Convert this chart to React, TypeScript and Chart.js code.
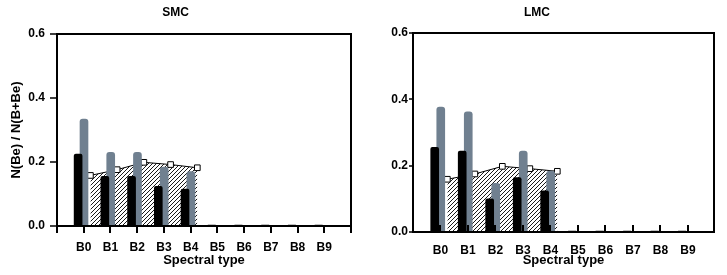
import React, { useEffect, useRef } from 'react';
import { Chart, registerables } from 'chart.js';

Chart.register(...registerables);
Chart.defaults.font.family = "'Liberation Sans', Arial, Helvetica, sans-serif";
Chart.defaults.color = '#000';

// ---- data ----
const spectralTypes = ['B0', 'B1', 'B2', 'B3', 'B4', 'B5', 'B6', 'B7', 'B8', 'B9'];
const yTickValues = [0, 0.2, 0.4, 0.6];

const smcBlack = [0.225, 0.155, 0.155, 0.124, 0.115, 0.003, 0.003, 0.003, 0.003, 0.003];
const smcGrey = [0.334, 0.23, 0.23, 0.184, 0.17, 0, 0, 0, 0, 0];
const smcMean = [0.158, 0.176, 0.199, 0.192, 0.182];

const lmcBlack = [0.255, 0.244, 0.1, 0.164, 0.124, 0.003, 0.003, 0.003, 0.003, 0.003];
const lmcGrey = [0.377, 0.362, 0.147, 0.244, 0.184, 0, 0, 0, 0, 0];
const lmcMean = [0.159, 0.175, 0.198, 0.191, 0.183];

// sub-positions inside one spectral-type slot
const BLACK_OFF = -0.21;
const GREY_OFF = 0.01;
const MEAN_OFF = 0.25;

function makeHatch(): CanvasPattern | string {
  const c = document.createElement('canvas');
  c.width = 4;
  c.height = 4;
  const g = c.getContext('2d');
  if (!g) return '#999';
  g.fillStyle = '#fff';
  g.fillRect(0, 0, 4, 4);
  g.strokeStyle = '#1a1a1a';
  g.lineWidth = 1;
  g.beginPath();
  g.moveTo(0, 4); g.lineTo(4, 0);
  g.moveTo(-1, 1); g.lineTo(1, -1);
  g.moveTo(3, 5); g.lineTo(5, 3);
  g.stroke();
  return g.createPattern(c, 'repeat') || '#999';
}

const framePlugin = {
  id: 'frame',
  afterDatasetsDraw(chart: any, _args: any, opts: any) {
    const { ctx, chartArea, scales } = chart;
    const { left, right, top, bottom } = chartArea;
    const xs = scales.x;
    const ys = scales.y;
    ctx.save();
    ctx.strokeStyle = '#000';
    ctx.lineCap = 'butt';
    // x ticks
    ctx.lineWidth = 2;
    ctx.beginPath();
    spectralTypes.forEach((_, i) => {
      const px = Math.round(xs.getPixelForValue(i));
      if (opts.xInside) {
        ctx.moveTo(px, bottom);
        ctx.lineTo(px, bottom - opts.xTickLen);
      } else {
        ctx.moveTo(px, bottom);
        ctx.lineTo(px, bottom + opts.xTickLen);
      }
    });
    if (!opts.xInside) {
      ctx.moveTo(left, bottom);
      ctx.lineTo(left, bottom + opts.xTickLen);
      ctx.moveTo(right, bottom);
      ctx.lineTo(right, bottom + opts.xTickLen);
    }
    ctx.stroke();
    // y ticks
    ctx.lineWidth = 1.5;
    ctx.beginPath();
    yTickValues.forEach((v) => {
      const py = Math.round(ys.getPixelForValue(v));
      ctx.moveTo(left - opts.yTickLen, py);
      ctx.lineTo(left, py);
    });
    ctx.stroke();
    // frame
    ctx.lineWidth = 2;
    ctx.strokeRect(left, top, right - left, bottom - top);
    ctx.restore();
  },
};

type PanelCfg = {
  title: string;
  left: number;
  width: number;
  area: { l: number; r: number; t: number; b: number };
  xMax: number;
  black: number[];
  grey: number[];
  mean: number[];
  yTitle: string;
  xInside: boolean;
  xTickLen: number;
  yTickLen: number;
  yLabelPad: number;
  xLabelPad: number;
  xTitlePad: number;
};

const H = 275;

function Panel({ cfg }: { cfg: PanelCfg }) {
  const ref = useRef<HTMLCanvasElement>(null);
  useEffect(() => {
    if (!ref.current) return;
    const hatch = makeHatch();
    const titleSize = 12;
    const chart = new Chart(ref.current, {
      type: 'bar',
      data: {
        datasets: [
          {
            type: 'bar',
            data: cfg.black.map((v, i) => ({ x: i + BLACK_OFF, y: v })),
            backgroundColor: '#000',
            barThickness: 8,
            grouped: false,
            borderRadius: 2,
          } as any,
          {
            type: 'bar',
            data: cfg.grey.map((v, i) => ({ x: i + GREY_OFF, y: v })),
            backgroundColor: '#708090',
            barThickness: 8,
            grouped: false,
            borderRadius: 3,
          } as any,
          {
            type: 'line',
            data: cfg.mean.map((v, i) => ({ x: i + MEAN_OFF, y: v })),
            borderColor: '#000',
            borderWidth: 1,
            tension: 0,
            fill: 'origin',
            backgroundColor: hatch,
            pointStyle: 'rect',
            pointRadius: 4,
            pointBackgroundColor: '#fff',
            pointBorderColor: '#000',
            pointBorderWidth: 1,
          } as any,
        ],
      },
      options: {
        responsive: false,
        animation: false,
        events: [],
        layout: {
          padding: { left: 0, top: 0, bottom: 0, right: cfg.width - cfg.area.r },
        },
        plugins: {
          legend: { display: false },
          tooltip: { enabled: false },
          title: {
            display: true,
            text: cfg.title,
            font: { size: titleSize, weight: 'bold' },
            padding: { top: 5, bottom: cfg.area.t - 5 - titleSize * 1.2 },
          },
          frame: {
            xInside: cfg.xInside,
            xTickLen: cfg.xTickLen,
            yTickLen: cfg.yTickLen,
          },
        } as any,
        scales: {
          x: {
            type: 'linear',
            min: -1,
            max: cfg.xMax,
            offset: false,
            grid: { display: false, drawTicks: false, offset: false },
            border: { display: false },
            afterBuildTicks: (s: any) => {
              s.ticks = spectralTypes.map((_, i) => ({ value: i }));
            },
            afterFit: (s: any) => {
              s.height = H - cfg.area.b;
            },
            ticks: {
              autoSkip: false,
              maxRotation: 0,
              padding: cfg.xLabelPad,
              font: { size: 12, weight: 'bold' },
              callback: (v: any) => spectralTypes[Math.round(v)] ?? '',
            },
            title: {
              display: true,
              text: 'Spectral type',
              font: { size: 13, weight: 'bold' },
              padding: { top: 0, bottom: cfg.xTitlePad },
            },
          },
          y: {
            min: 0,
            max: 0.6,
            grid: { display: false, drawTicks: false },
            border: { display: false },
            afterBuildTicks: (s: any) => {
              s.ticks = yTickValues.map((v) => ({ value: v }));
            },
            afterFit: (s: any) => {
              s.width = cfg.area.l;
            },
            ticks: {
              padding: cfg.yLabelPad,
              font: { size: 12, weight: 'bold' },
              callback: (v: any) => Number(v).toFixed(1),
            },
            title: {
              display: cfg.yTitle !== '',
              text: cfg.yTitle,
              font: { size: 13, weight: 'bold' },
              padding: { top: 9, bottom: 0 },
            },
          },
        },
      } as any,
      plugins: [framePlugin],
    });
    return () => chart.destroy();
  }, [cfg]);
  return (
    <div style={{ position: 'absolute', left: cfg.left, top: 0, width: cfg.width, height: H }}>
      <canvas ref={ref} width={cfg.width} height={H} style={{ display: 'block' }} />
    </div>
  );
}

const smcCfg: PanelCfg = {
  title: 'SMC',
  left: 0,
  width: 360,
  area: { l: 57, r: 351, t: 34, b: 226 },
  xMax: 10,
  black: smcBlack,
  grey: smcGrey,
  mean: smcMean,
  yTitle: 'N(Be) / N(B+Be)',
  xInside: false,
  xTickLen: 7,
  yTickLen: 7,
  yLabelPad: 12,
  xLabelPad: 14.5,
  xTitlePad: 7,
};

const lmcCfg: PanelCfg = {
  title: 'LMC',
  left: 360,
  width: 367,
  area: { l: 53, r: 354, t: 33, b: 232 },
  xMax: 9.95,
  black: lmcBlack,
  grey: lmcGrey,
  mean: lmcMean,
  yTitle: '',
  xInside: true,
  xTickLen: 7,
  yTickLen: 4,
  yLabelPad: 5,
  xLabelPad: 11,
  xTitlePad: 7,
};

export default function App() {
  return (
    <div style={{ position: 'fixed', left: 0, top: 0, width: 727, height: H, background: '#fff' }}>
      <Panel cfg={smcCfg} />
      <Panel cfg={lmcCfg} />
    </div>
  );
}
